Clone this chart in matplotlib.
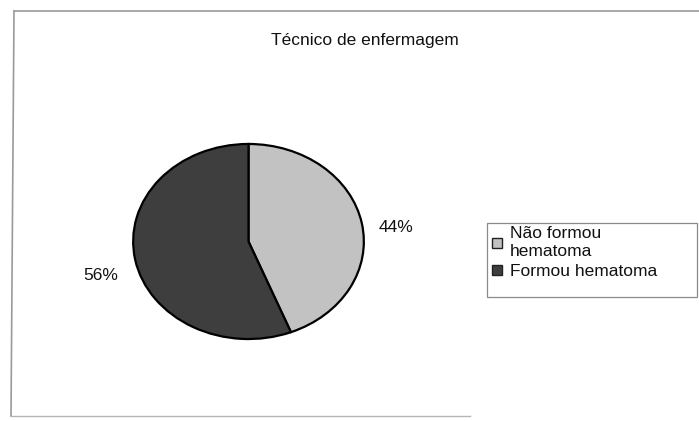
import matplotlib
matplotlib.use("Agg")
import matplotlib.pyplot as plt
from matplotlib.lines import Line2D
from matplotlib.patches import Rectangle

plt.rcParams['font.family'] = ['Liberation Sans', 'DejaVu Sans']

title = "Técnico de enfermagem"
labels = ["Não formou\nhematoma", "Formou hematoma"]
values = [44, 56]
colors = ["#c2c2c2", "#3e3e3e"]

W, H = 699, 421
fig = plt.figure(figsize=(W / 100, H / 100), dpi=100)

# pie is a bit wider than tall in the scan, so stretch the axes
ax = fig.add_axes([132 / W, 1 - 340 / H, 233 / W, 197 / H])
wedges, texts, autotexts = ax.pie(
    values, colors=colors, startangle=90, counterclock=False,
    autopct="%d%%", pctdistance=1.3,
    wedgeprops=dict(edgecolor="black", linewidth=1.6),
    textprops=dict(fontsize=12.5, color="#111111"))
ax.set_aspect('auto')
ax.set_xlim(-1.01, 1.01)
ax.set_ylim(-1.01, 1.01)
# labels sit a little lower in the scan
for t in autotexts:
    x, y = t.get_position()
    t.set_position((x, y - 0.1))

fig.text(365 / W, 1 - 40 / H, title, ha="center", va="center", fontsize=12.5,
         color="#111111")

# scanned frame (left, top, bottom only) + legend box
frame = fig.add_axes([0, 0, 1, 1], zorder=-1)
frame.set_axis_off()
frame.set_xlim(0, W)
frame.set_ylim(H, 0)
frame.plot([14, 699], [11, 11], color="#9a9a9a", lw=1.2)
frame.plot([14, 11], [11, 416], color="#9a9a9a", lw=1.2)
frame.plot([11, 470], [416, 416], color="#b5b5b5", lw=1.0)
frame.add_patch(Rectangle((487, 223), 210, 74, facecolor="white",
                          edgecolor="#8a8a8a", lw=0.9))

handles = [Line2D([], [], marker="s", linestyle="", markersize=7,
                  markerfacecolor=c, markeredgecolor="#222222")
           for c in colors]
leg = fig.legend(handles, labels, loc="upper left",
                 bbox_to_anchor=(487 / W, 1 - 223 / H),
                 fontsize=12.5, frameon=False,
                 handlelength=0.7, handletextpad=0.4, borderaxespad=0,
                 labelspacing=0.3, borderpad=0.2)
for txt in leg.get_texts():
    txt.set_color("#111111")

fig.savefig("out.png", dpi=100)
